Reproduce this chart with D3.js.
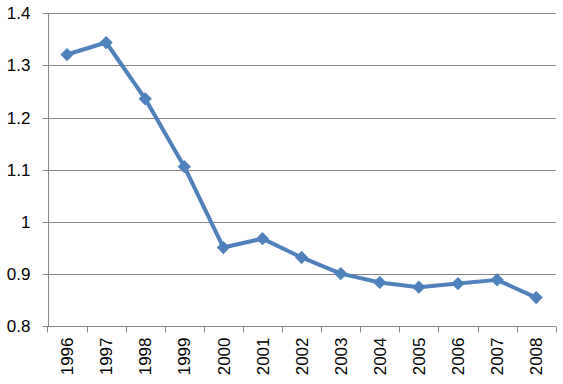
<!DOCTYPE html>
<html>
<head>
<meta charset="utf-8">
<script src="https://cdn.jsdelivr.net/npm/d3@7"></script>
<style>
    body { margin: 0; background: #fff; }
    .axis text { font-family: "Liberation Sans", Arial, sans-serif; font-size: 17px; fill: #000; }
</style>
</head>
<body>
<div id="chart"></div>
<script>
// Chart data.
var years = ["1996", "1997", "1998", "1999", "2000", "2001", "2002",
             "2003", "2004", "2005", "2006", "2007", "2008"];
var values = [1.321, 1.344, 1.236, 1.106, 0.951, 0.968, 0.932,
              0.901, 0.884, 0.875, 0.882, 0.889, 0.855];
var yTicks = [0.8, 0.9, 1, 1.1, 1.2, 1.3, 1.4];

// Dimensions.
var width = 563;
var height = 384;
var margin = { top: 13.3, right: 7.3, bottom: 57.7, left: 47.5 };

var svg = d3.select("#chart")
    .append("svg")
    .attr("width", width)
    .attr("height", height);

var x = d3.scaleBand()
    .domain(years)
    .range([margin.left, width - margin.right]);

var y = d3.scaleLinear()
    .domain([0.8, 1.4])
    .range([height - margin.bottom, margin.top]);

// Horizontal gridlines.
svg.append("g")
    .selectAll("line")
    .data(yTicks.slice(1))
    .enter().append("line")
    .attr("x1", margin.left)
    .attr("x2", width - margin.right)
    .attr("y1", function(d) { return Math.round(y(d)) + 0.5; })
    .attr("y2", function(d) { return Math.round(y(d)) + 0.5; })
    .style("stroke", "#878787")
    .style("stroke-width", 1);

// Y axis
var yAxis = svg.append("g")
    .attr("class", "axis")
    .attr("transform", "translate(" + (Math.round(margin.left) + 0.5) + ",0)")
    .call(d3.axisLeft(y).tickValues(yTicks).tickSize(6).tickPadding(12)
        .tickFormat(function(d) { return d3.format("")(d); }));

yAxis.selectAll("line, path").style("stroke", "#868686");
yAxis.select(".domain").attr("d", "M0," + y(1.4) + "V" + y(0.8));
yAxis.selectAll(".tick").attr("transform", function(d) {
    return "translate(0," + (Math.round(y(d)) + 0.5) + ")";
});

// X axis: ticks sit at band boundaries, labels at band centres.
var xAxisG = svg.append("g")
    .attr("class", "axis")
    .attr("transform", "translate(0," + (Math.round(y(0.8)) + 0.5) + ")");

xAxisG.append("line")
    .attr("x1", margin.left)
    .attr("x2", width - margin.right)
    .style("stroke", "#868686");

var bounds = years.map(function(d) { return x(d); }).concat([x.range()[1]]);
xAxisG.selectAll(".xtick")
    .data(bounds)
    .enter().append("line")
    .attr("class", "xtick")
    .attr("x1", function(d) { return Math.round(d) + 0.5; })
    .attr("x2", function(d) { return Math.round(d) + 0.5; })
    .attr("y1", 0)
    .attr("y2", 6)
    .style("stroke", "#868686");

xAxisG.selectAll("text")
    .data(years)
    .enter().append("text")
    .attr("transform", function(d) {
        return "translate(" + (x(d) + x.bandwidth() / 2) + ",11) rotate(-90)";
    })
    .attr("text-anchor", "end")
    .attr("dy", "0.36em")
    .text(function(d) { return d; });

// Line
var line = d3.line()
    .x(function(d, i) { return x(years[i]) + x.bandwidth() / 2; })
    .y(function(d) { return y(d); });

svg.append("path")
    .datum(values)
    .attr("d", line)
    .style("fill", "none")
    .style("stroke", "#4F81BD")
    .style("stroke-width", 4)
    .style("stroke-linejoin", "round");

// Diamond markers
var diamond = d3.symbol().type(d3.symbolSquare).size(88);
svg.append("g")
    .selectAll("path")
    .data(values)
    .enter().append("path")
    .attr("d", diamond)
    .attr("transform", function(d, i) {
        return "translate(" + (x(years[i]) + x.bandwidth() / 2) + "," + y(d) + ") rotate(45)";
    })
    .style("fill", "#4F81BD");
</script>
</body>
</html>
